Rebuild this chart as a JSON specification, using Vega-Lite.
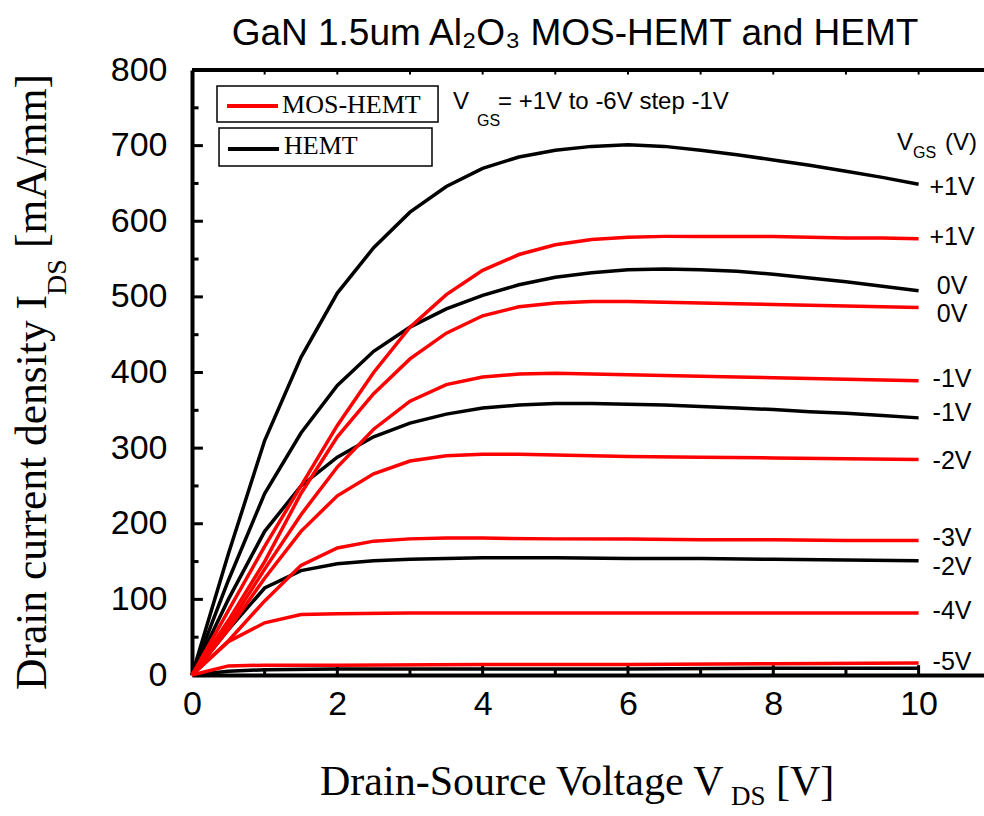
{
  "$schema": "https://vega.github.io/schema/vega-lite/v6.json",
  "width": 792,
  "height": 605,
  "autosize": {"type": "none"},
  "padding": {"left": 192, "top": 70, "right": 0, "bottom": 141},
  "background": "white",
  "title": {"text": "GaN 1.5um Al₂O₃ MOS-HEMT and HEMT", "font": "Liberation Sans", "fontSize": 37, "fontWeight": "normal", "color": "black", "offset": 0, "dx": -13, "anchor": "middle"},
  "config": {"view": {"stroke": null}},
  "datasets": {
    "curves": [
      {"dev": "HEMT", "g": "+1V", "v": 0, "i": 0}, {"dev": "HEMT", "g": "+1V", "v": 0.5, "i": 160}, {"dev": "HEMT", "g": "+1V", "v": 1, "i": 310}, {"dev": "HEMT", "g": "+1V", "v": 1.5, "i": 420}, {"dev": "HEMT", "g": "+1V", "v": 2, "i": 505}, {"dev": "HEMT", "g": "+1V", "v": 2.5, "i": 565}, {"dev": "HEMT", "g": "+1V", "v": 3, "i": 612}, {"dev": "HEMT", "g": "+1V", "v": 3.5, "i": 646}, {"dev": "HEMT", "g": "+1V", "v": 4, "i": 670}, {"dev": "HEMT", "g": "+1V", "v": 4.5, "i": 685}, {"dev": "HEMT", "g": "+1V", "v": 5, "i": 694}, {"dev": "HEMT", "g": "+1V", "v": 5.5, "i": 699}, {"dev": "HEMT", "g": "+1V", "v": 6, "i": 701}, {"dev": "HEMT", "g": "+1V", "v": 6.5, "i": 699}, {"dev": "HEMT", "g": "+1V", "v": 7, "i": 694}, {"dev": "HEMT", "g": "+1V", "v": 7.5, "i": 688}, {"dev": "HEMT", "g": "+1V", "v": 8, "i": 681}, {"dev": "HEMT", "g": "+1V", "v": 8.5, "i": 674}, {"dev": "HEMT", "g": "+1V", "v": 9, "i": 666}, {"dev": "HEMT", "g": "+1V", "v": 9.5, "i": 658}, {"dev": "HEMT", "g": "+1V", "v": 10, "i": 649},
      {"dev": "HEMT", "g": "0V", "v": 0, "i": 0}, {"dev": "HEMT", "g": "0V", "v": 0.5, "i": 125}, {"dev": "HEMT", "g": "0V", "v": 1, "i": 240}, {"dev": "HEMT", "g": "0V", "v": 1.5, "i": 320}, {"dev": "HEMT", "g": "0V", "v": 2, "i": 383}, {"dev": "HEMT", "g": "0V", "v": 2.5, "i": 428}, {"dev": "HEMT", "g": "0V", "v": 3, "i": 460}, {"dev": "HEMT", "g": "0V", "v": 3.5, "i": 484}, {"dev": "HEMT", "g": "0V", "v": 4, "i": 502}, {"dev": "HEMT", "g": "0V", "v": 4.5, "i": 516}, {"dev": "HEMT", "g": "0V", "v": 5, "i": 526}, {"dev": "HEMT", "g": "0V", "v": 5.5, "i": 532}, {"dev": "HEMT", "g": "0V", "v": 6, "i": 536}, {"dev": "HEMT", "g": "0V", "v": 6.5, "i": 537}, {"dev": "HEMT", "g": "0V", "v": 7, "i": 536}, {"dev": "HEMT", "g": "0V", "v": 7.5, "i": 534}, {"dev": "HEMT", "g": "0V", "v": 8, "i": 530}, {"dev": "HEMT", "g": "0V", "v": 8.5, "i": 525}, {"dev": "HEMT", "g": "0V", "v": 9, "i": 520}, {"dev": "HEMT", "g": "0V", "v": 9.5, "i": 514}, {"dev": "HEMT", "g": "0V", "v": 10, "i": 508},
      {"dev": "HEMT", "g": "-1V", "v": 0, "i": 0}, {"dev": "HEMT", "g": "-1V", "v": 0.5, "i": 100}, {"dev": "HEMT", "g": "-1V", "v": 1, "i": 190}, {"dev": "HEMT", "g": "-1V", "v": 1.5, "i": 250}, {"dev": "HEMT", "g": "-1V", "v": 2, "i": 288}, {"dev": "HEMT", "g": "-1V", "v": 2.5, "i": 315}, {"dev": "HEMT", "g": "-1V", "v": 3, "i": 333}, {"dev": "HEMT", "g": "-1V", "v": 3.5, "i": 345}, {"dev": "HEMT", "g": "-1V", "v": 4, "i": 353}, {"dev": "HEMT", "g": "-1V", "v": 4.5, "i": 357}, {"dev": "HEMT", "g": "-1V", "v": 5, "i": 359}, {"dev": "HEMT", "g": "-1V", "v": 5.5, "i": 359}, {"dev": "HEMT", "g": "-1V", "v": 6, "i": 358}, {"dev": "HEMT", "g": "-1V", "v": 6.5, "i": 357}, {"dev": "HEMT", "g": "-1V", "v": 7, "i": 355}, {"dev": "HEMT", "g": "-1V", "v": 7.5, "i": 353}, {"dev": "HEMT", "g": "-1V", "v": 8, "i": 351}, {"dev": "HEMT", "g": "-1V", "v": 8.5, "i": 348}, {"dev": "HEMT", "g": "-1V", "v": 9, "i": 346}, {"dev": "HEMT", "g": "-1V", "v": 9.5, "i": 343}, {"dev": "HEMT", "g": "-1V", "v": 10, "i": 340},
      {"dev": "HEMT", "g": "-2V", "v": 0, "i": 0}, {"dev": "HEMT", "g": "-2V", "v": 0.5, "i": 60}, {"dev": "HEMT", "g": "-2V", "v": 1, "i": 115}, {"dev": "HEMT", "g": "-2V", "v": 1.5, "i": 138}, {"dev": "HEMT", "g": "-2V", "v": 2, "i": 147}, {"dev": "HEMT", "g": "-2V", "v": 2.5, "i": 151}, {"dev": "HEMT", "g": "-2V", "v": 3, "i": 153}, {"dev": "HEMT", "g": "-2V", "v": 3.5, "i": 154}, {"dev": "HEMT", "g": "-2V", "v": 4, "i": 155}, {"dev": "HEMT", "g": "-2V", "v": 5, "i": 155}, {"dev": "HEMT", "g": "-2V", "v": 6, "i": 154}, {"dev": "HEMT", "g": "-2V", "v": 7, "i": 154}, {"dev": "HEMT", "g": "-2V", "v": 8, "i": 153}, {"dev": "HEMT", "g": "-2V", "v": 9, "i": 152}, {"dev": "HEMT", "g": "-2V", "v": 10, "i": 151},
      {"dev": "HEMT", "g": "-3V", "v": 0, "i": 0}, {"dev": "HEMT", "g": "-3V", "v": 0.5, "i": 5}, {"dev": "HEMT", "g": "-3V", "v": 1, "i": 7}, {"dev": "HEMT", "g": "-3V", "v": 2, "i": 8}, {"dev": "HEMT", "g": "-3V", "v": 4, "i": 8}, {"dev": "HEMT", "g": "-3V", "v": 6, "i": 8}, {"dev": "HEMT", "g": "-3V", "v": 8, "i": 9}, {"dev": "HEMT", "g": "-3V", "v": 10, "i": 9},
      {"dev": "MOS-HEMT", "g": "+1V", "v": 0, "i": 0}, {"dev": "MOS-HEMT", "g": "+1V", "v": 0.5, "i": 85}, {"dev": "MOS-HEMT", "g": "+1V", "v": 1, "i": 170}, {"dev": "MOS-HEMT", "g": "+1V", "v": 1.5, "i": 250}, {"dev": "MOS-HEMT", "g": "+1V", "v": 2, "i": 330}, {"dev": "MOS-HEMT", "g": "+1V", "v": 2.5, "i": 400}, {"dev": "MOS-HEMT", "g": "+1V", "v": 3, "i": 460}, {"dev": "MOS-HEMT", "g": "+1V", "v": 3.5, "i": 503}, {"dev": "MOS-HEMT", "g": "+1V", "v": 4, "i": 535}, {"dev": "MOS-HEMT", "g": "+1V", "v": 4.5, "i": 556}, {"dev": "MOS-HEMT", "g": "+1V", "v": 5, "i": 569}, {"dev": "MOS-HEMT", "g": "+1V", "v": 5.5, "i": 576}, {"dev": "MOS-HEMT", "g": "+1V", "v": 6, "i": 579}, {"dev": "MOS-HEMT", "g": "+1V", "v": 6.5, "i": 580}, {"dev": "MOS-HEMT", "g": "+1V", "v": 7, "i": 580}, {"dev": "MOS-HEMT", "g": "+1V", "v": 7.5, "i": 580}, {"dev": "MOS-HEMT", "g": "+1V", "v": 8, "i": 580}, {"dev": "MOS-HEMT", "g": "+1V", "v": 8.5, "i": 579}, {"dev": "MOS-HEMT", "g": "+1V", "v": 9, "i": 578}, {"dev": "MOS-HEMT", "g": "+1V", "v": 9.5, "i": 578}, {"dev": "MOS-HEMT", "g": "+1V", "v": 10, "i": 577},
      {"dev": "MOS-HEMT", "g": "0V", "v": 0, "i": 0}, {"dev": "MOS-HEMT", "g": "0V", "v": 0.5, "i": 72}, {"dev": "MOS-HEMT", "g": "0V", "v": 1, "i": 150}, {"dev": "MOS-HEMT", "g": "0V", "v": 1.5, "i": 240}, {"dev": "MOS-HEMT", "g": "0V", "v": 2, "i": 315}, {"dev": "MOS-HEMT", "g": "0V", "v": 2.5, "i": 372}, {"dev": "MOS-HEMT", "g": "0V", "v": 3, "i": 418}, {"dev": "MOS-HEMT", "g": "0V", "v": 3.5, "i": 452}, {"dev": "MOS-HEMT", "g": "0V", "v": 4, "i": 475}, {"dev": "MOS-HEMT", "g": "0V", "v": 4.5, "i": 487}, {"dev": "MOS-HEMT", "g": "0V", "v": 5, "i": 492}, {"dev": "MOS-HEMT", "g": "0V", "v": 5.5, "i": 494}, {"dev": "MOS-HEMT", "g": "0V", "v": 6, "i": 494}, {"dev": "MOS-HEMT", "g": "0V", "v": 6.5, "i": 493}, {"dev": "MOS-HEMT", "g": "0V", "v": 7, "i": 492}, {"dev": "MOS-HEMT", "g": "0V", "v": 7.5, "i": 491}, {"dev": "MOS-HEMT", "g": "0V", "v": 8, "i": 490}, {"dev": "MOS-HEMT", "g": "0V", "v": 8.5, "i": 489}, {"dev": "MOS-HEMT", "g": "0V", "v": 9, "i": 488}, {"dev": "MOS-HEMT", "g": "0V", "v": 9.5, "i": 487}, {"dev": "MOS-HEMT", "g": "0V", "v": 10, "i": 486},
      {"dev": "MOS-HEMT", "g": "-1V", "v": 0, "i": 0}, {"dev": "MOS-HEMT", "g": "-1V", "v": 0.5, "i": 65}, {"dev": "MOS-HEMT", "g": "-1V", "v": 1, "i": 140}, {"dev": "MOS-HEMT", "g": "-1V", "v": 1.5, "i": 212}, {"dev": "MOS-HEMT", "g": "-1V", "v": 2, "i": 275}, {"dev": "MOS-HEMT", "g": "-1V", "v": 2.5, "i": 325}, {"dev": "MOS-HEMT", "g": "-1V", "v": 3, "i": 362}, {"dev": "MOS-HEMT", "g": "-1V", "v": 3.5, "i": 384}, {"dev": "MOS-HEMT", "g": "-1V", "v": 4, "i": 394}, {"dev": "MOS-HEMT", "g": "-1V", "v": 4.5, "i": 398}, {"dev": "MOS-HEMT", "g": "-1V", "v": 5, "i": 399}, {"dev": "MOS-HEMT", "g": "-1V", "v": 5.5, "i": 398}, {"dev": "MOS-HEMT", "g": "-1V", "v": 6, "i": 397}, {"dev": "MOS-HEMT", "g": "-1V", "v": 6.5, "i": 396}, {"dev": "MOS-HEMT", "g": "-1V", "v": 7, "i": 395}, {"dev": "MOS-HEMT", "g": "-1V", "v": 7.5, "i": 394}, {"dev": "MOS-HEMT", "g": "-1V", "v": 8, "i": 393}, {"dev": "MOS-HEMT", "g": "-1V", "v": 8.5, "i": 392}, {"dev": "MOS-HEMT", "g": "-1V", "v": 9, "i": 391}, {"dev": "MOS-HEMT", "g": "-1V", "v": 9.5, "i": 390}, {"dev": "MOS-HEMT", "g": "-1V", "v": 10, "i": 389},
      {"dev": "MOS-HEMT", "g": "-2V", "v": 0, "i": 0}, {"dev": "MOS-HEMT", "g": "-2V", "v": 0.5, "i": 60}, {"dev": "MOS-HEMT", "g": "-2V", "v": 1, "i": 128}, {"dev": "MOS-HEMT", "g": "-2V", "v": 1.5, "i": 190}, {"dev": "MOS-HEMT", "g": "-2V", "v": 2, "i": 237}, {"dev": "MOS-HEMT", "g": "-2V", "v": 2.5, "i": 266}, {"dev": "MOS-HEMT", "g": "-2V", "v": 3, "i": 283}, {"dev": "MOS-HEMT", "g": "-2V", "v": 3.5, "i": 290}, {"dev": "MOS-HEMT", "g": "-2V", "v": 4, "i": 292}, {"dev": "MOS-HEMT", "g": "-2V", "v": 4.5, "i": 292}, {"dev": "MOS-HEMT", "g": "-2V", "v": 5, "i": 291}, {"dev": "MOS-HEMT", "g": "-2V", "v": 6, "i": 289}, {"dev": "MOS-HEMT", "g": "-2V", "v": 7, "i": 288}, {"dev": "MOS-HEMT", "g": "-2V", "v": 8, "i": 287}, {"dev": "MOS-HEMT", "g": "-2V", "v": 9, "i": 286}, {"dev": "MOS-HEMT", "g": "-2V", "v": 10, "i": 285},
      {"dev": "MOS-HEMT", "g": "-3V", "v": 0, "i": 0}, {"dev": "MOS-HEMT", "g": "-3V", "v": 0.5, "i": 45}, {"dev": "MOS-HEMT", "g": "-3V", "v": 1, "i": 98}, {"dev": "MOS-HEMT", "g": "-3V", "v": 1.5, "i": 145}, {"dev": "MOS-HEMT", "g": "-3V", "v": 2, "i": 168}, {"dev": "MOS-HEMT", "g": "-3V", "v": 2.5, "i": 177}, {"dev": "MOS-HEMT", "g": "-3V", "v": 3, "i": 180}, {"dev": "MOS-HEMT", "g": "-3V", "v": 3.5, "i": 181}, {"dev": "MOS-HEMT", "g": "-3V", "v": 4, "i": 181}, {"dev": "MOS-HEMT", "g": "-3V", "v": 5, "i": 180}, {"dev": "MOS-HEMT", "g": "-3V", "v": 6, "i": 180}, {"dev": "MOS-HEMT", "g": "-3V", "v": 7, "i": 179}, {"dev": "MOS-HEMT", "g": "-3V", "v": 8, "i": 179}, {"dev": "MOS-HEMT", "g": "-3V", "v": 9, "i": 178}, {"dev": "MOS-HEMT", "g": "-3V", "v": 10, "i": 178},
      {"dev": "MOS-HEMT", "g": "-4V", "v": 0, "i": 0}, {"dev": "MOS-HEMT", "g": "-4V", "v": 0.5, "i": 44}, {"dev": "MOS-HEMT", "g": "-4V", "v": 1, "i": 69}, {"dev": "MOS-HEMT", "g": "-4V", "v": 1.5, "i": 80}, {"dev": "MOS-HEMT", "g": "-4V", "v": 2, "i": 81}, {"dev": "MOS-HEMT", "g": "-4V", "v": 3, "i": 82}, {"dev": "MOS-HEMT", "g": "-4V", "v": 4, "i": 82}, {"dev": "MOS-HEMT", "g": "-4V", "v": 6, "i": 82}, {"dev": "MOS-HEMT", "g": "-4V", "v": 8, "i": 82}, {"dev": "MOS-HEMT", "g": "-4V", "v": 10, "i": 82},
      {"dev": "MOS-HEMT", "g": "-5V", "v": 0, "i": 0}, {"dev": "MOS-HEMT", "g": "-5V", "v": 0.5, "i": 12}, {"dev": "MOS-HEMT", "g": "-5V", "v": 1, "i": 13}, {"dev": "MOS-HEMT", "g": "-5V", "v": 2, "i": 13}, {"dev": "MOS-HEMT", "g": "-5V", "v": 4, "i": 14}, {"dev": "MOS-HEMT", "g": "-5V", "v": 6, "i": 14}, {"dev": "MOS-HEMT", "g": "-5V", "v": 8, "i": 15}, {"dev": "MOS-HEMT", "g": "-5V", "v": 10, "i": 16}
    ],
    "labels": [
      {"label": "+1V", "i": 645}, {"label": "+1V", "i": 579}, {"label": "0V", "i": 514}, {"label": "0V", "i": 477},
      {"label": "-1V", "i": 391}, {"label": "-1V", "i": 346}, {"label": "-2V", "i": 283}, {"label": "-3V", "i": 181},
      {"label": "-2V", "i": 143}, {"label": "-4V", "i": 85}, {"label": "-5V", "i": 17}
    ],
    "xticks": [{"v": 1}, {"v": 2}, {"v": 3}, {"v": 4}, {"v": 5}, {"v": 6}, {"v": 7}, {"v": 8}, {"v": 9}, {"v": 10}],
    "yticks": [{"i": 50}, {"i": 100}, {"i": 150}, {"i": 200}, {"i": 250}, {"i": 300}, {"i": 350}, {"i": 400}, {"i": 450}, {"i": 500}, {"i": 550}, {"i": 600}, {"i": 650}, {"i": 700}, {"i": 750}]
  },
  "layer": [
    {
      "data": {"name": "curves"},
      "transform": [{"filter": "datum.dev === 'HEMT'"}],
      "mark": {"type": "line", "strokeWidth": 3.5, "color": "black"},
      "encoding": {
        "x": {"field": "v", "type": "quantitative", "scale": {"domain": [0, 10.9], "nice": false, "zero": false},
          "axis": {"orient": "bottom", "title": null, "format": "d", "values": [0,2,4,6,8,10], "grid": false, "domainColor": "black", "domainWidth": 4, "ticks": false, "labelFont": "Liberation Sans", "labelFontSize": 34, "labelColor": "black", "labelPadding": 12, "labelFlush": false, "labelOverlap": false}},
        "y": {"field": "i", "type": "quantitative", "scale": {"domain": [0, 800], "nice": false},
          "axis": {"orient": "left", "title": null, "format": "d", "values": [0,100,200,300,400,500,600,700,800], "grid": false, "domainColor": "black", "domainWidth": 4, "ticks": false, "labelFont": "Liberation Sans", "labelFontSize": 34, "labelColor": "black", "labelPadding": 25, "labelFlush": false, "labelOverlap": false}},
        "detail": {"field": "g"}
      }
    },
    {
      "data": {"name": "xticks"},
      "transform": [{"filter": "datum.v % 2 === 0"}],
      "mark": {"type": "rule", "strokeWidth": 3, "color": "black"},
      "encoding": {"x": {"field": "v", "type": "quantitative"}, "y": {"datum": 0, "type": "quantitative"}, "y2": {"datum": 13}}
    },
    {
      "data": {"name": "xticks"},
      "transform": [{"filter": "datum.v % 2 === 1"}],
      "mark": {"type": "rule", "strokeWidth": 3, "color": "black"},
      "encoding": {"x": {"field": "v", "type": "quantitative"}, "y": {"datum": 0, "type": "quantitative"}, "y2": {"datum": 9}}
    },
    {
      "data": {"name": "xticks"},
      "mark": {"type": "rule", "strokeWidth": 2, "color": "black"},
      "encoding": {"x": {"field": "v", "type": "quantitative"}, "y": {"datum": 800, "type": "quantitative"}, "y2": {"datum": 794}}
    },
    {
      "data": {"name": "yticks"},
      "transform": [{"filter": "datum.i % 100 === 0"}],
      "mark": {"type": "rule", "strokeWidth": 3, "color": "black"},
      "encoding": {"y": {"field": "i", "type": "quantitative"}, "x": {"datum": 0, "type": "quantitative"}, "x2": {"datum": 0.15}}
    },
    {
      "data": {"name": "yticks"},
      "transform": [{"filter": "datum.i % 100 !== 0"}],
      "mark": {"type": "rule", "strokeWidth": 3, "color": "black"},
      "encoding": {"y": {"field": "i", "type": "quantitative"}, "x": {"datum": 0, "type": "quantitative"}, "x2": {"datum": 0.09}}
    },
    {
      "data": {"name": "curves"},
      "transform": [{"filter": "datum.dev === 'MOS-HEMT'"}],
      "mark": {"type": "line", "strokeWidth": 3.5, "color": "#ff0000"},
      "encoding": {
        "x": {"field": "v", "type": "quantitative"},
        "y": {"field": "i", "type": "quantitative"},
        "detail": {"field": "g"}
      }
    },
    {
      "data": {"values": [{}]},
      "mark": {"type": "rule", "strokeWidth": 4, "color": "black"},
      "encoding": {
        "x": {"datum": 0, "type": "quantitative"},
        "x2": {"datum": 10.9},
        "y": {"datum": 800, "type": "quantitative"}
      }
    },
    {
      "data": {"name": "labels"},
      "mark": {"type": "text", "font": "Liberation Sans", "fontSize": 25, "align": "center", "baseline": "middle", "color": "black"},
      "encoding": {
        "x": {"datum": 10.46, "type": "quantitative"},
        "y": {"field": "i", "type": "quantitative"},
        "text": {"field": "label"}
      }
    },
    {
      "data": {"values": [{}]},
      "mark": {"type": "rect", "fill": "white", "stroke": "black", "strokeWidth": 1.5},
      "encoding": {"x": {"datum": 0.344, "type": "quantitative"}, "x2": {"datum": 3.386}, "y": {"datum": 778.8, "type": "quantitative"}, "y2": {"datum": 731.2}}
    },
    {
      "data": {"values": [{}]},
      "mark": {"type": "rect", "fill": "white", "stroke": "black", "strokeWidth": 1.5},
      "encoding": {"x": {"datum": 0.372, "type": "quantitative"}, "x2": {"datum": 3.303}, "y": {"datum": 723.3, "type": "quantitative"}, "y2": {"datum": 673.1}}
    },
    {
      "data": {"values": [{}]},
      "mark": {"type": "rule", "strokeWidth": 4, "color": "#ff0000"},
      "encoding": {"x": {"datum": 0.482, "type": "quantitative"}, "x2": {"datum": 1.184}, "y": {"datum": 752.4, "type": "quantitative"}}
    },
    {
      "data": {"values": [{}]},
      "mark": {"type": "rule", "strokeWidth": 4, "color": "black"},
      "encoding": {"x": {"datum": 0.495, "type": "quantitative"}, "x2": {"datum": 1.198}, "y": {"datum": 695.5, "type": "quantitative"}}
    },
    {
      "data": {"values": [{}]},
      "mark": {"type": "text", "font": "Liberation Serif", "fontSize": 26, "align": "left", "baseline": "middle", "color": "black"},
      "encoding": {"x": {"datum": 1.239, "type": "quantitative"}, "y": {"datum": 753.7, "type": "quantitative"}, "text": {"value": "MOS-HEMT"}}
    },
    {
      "data": {"values": [{}]},
      "mark": {"type": "text", "font": "Liberation Serif", "fontSize": 26, "align": "left", "baseline": "middle", "color": "black"},
      "encoding": {"x": {"datum": 1.266, "type": "quantitative"}, "y": {"datum": 699.5, "type": "quantitative"}, "text": {"value": "HEMT"}}
    },
    {
      "data": {"values": [{}]},
      "mark": {"type": "text", "font": "Liberation Sans", "fontSize": 24, "align": "left", "baseline": "middle", "color": "black"},
      "encoding": {"x": {"datum": 3.592, "type": "quantitative"}, "y": {"datum": 757.7, "type": "quantitative"}, "text": {"value": "V"}}
    },
    {
      "data": {"values": [{}]},
      "mark": {"type": "text", "font": "Liberation Sans", "fontSize": 16, "align": "left", "baseline": "middle", "color": "black"},
      "encoding": {"x": {"datum": 3.922, "type": "quantitative"}, "y": {"datum": 732.6, "type": "quantitative"}, "text": {"value": "GS"}}
    },
    {
      "data": {"values": [{}]},
      "mark": {"type": "text", "font": "Liberation Sans", "fontSize": 24, "align": "left", "baseline": "middle", "color": "black"},
      "encoding": {"x": {"datum": 4.211, "type": "quantitative"}, "y": {"datum": 757.7, "type": "quantitative"}, "text": {"value": "= +1V to -6V step -1V"}}
    },
    {
      "data": {"values": [{}]},
      "mark": {"type": "text", "font": "Liberation Sans", "fontSize": 24, "align": "left", "baseline": "middle", "color": "black"},
      "encoding": {"x": {"datum": 9.703, "type": "quantitative"}, "y": {"datum": 703.5, "type": "quantitative"}, "text": {"value": "V"}}
    },
    {
      "data": {"values": [{}]},
      "mark": {"type": "text", "font": "Liberation Sans", "fontSize": 16, "align": "left", "baseline": "middle", "color": "black"},
      "encoding": {"x": {"datum": 9.923, "type": "quantitative"}, "y": {"datum": 690.2, "type": "quantitative"}, "text": {"value": "GS"}}
    },
    {
      "data": {"values": [{}]},
      "mark": {"type": "text", "font": "Liberation Sans", "fontSize": 24, "align": "left", "baseline": "middle", "color": "black"},
      "encoding": {"x": {"datum": 10.363, "type": "quantitative"}, "y": {"datum": 703.5, "type": "quantitative"}, "text": {"value": "(V)"}}
    },
    {
      "data": {"values": [{}]},
      "mark": {"type": "text", "font": "Liberation Serif", "fontSize": 42, "align": "left", "baseline": "middle", "color": "black"},
      "encoding": {"x": {"datum": 1.762, "type": "quantitative"}, "y": {"datum": -141.5, "type": "quantitative"}, "text": {"value": "Drain-Source Voltage V"}}
    },
    {
      "data": {"values": [{}]},
      "mark": {"type": "text", "font": "Liberation Serif", "fontSize": 27, "align": "left", "baseline": "middle", "color": "black"},
      "encoding": {"x": {"datum": 7.418, "type": "quantitative"}, "y": {"datum": -161.3, "type": "quantitative"}, "text": {"value": "DS"}}
    },
    {
      "data": {"values": [{}]},
      "mark": {"type": "text", "font": "Liberation Serif", "fontSize": 42, "align": "left", "baseline": "middle", "color": "black"},
      "encoding": {"x": {"datum": 8.037, "type": "quantitative"}, "y": {"datum": -141.5, "type": "quantitative"}, "text": {"value": "[V]"}}
    },
    {
      "data": {"values": [{}]},
      "mark": {"type": "text", "font": "Liberation Serif", "fontSize": 43.5, "align": "left", "baseline": "middle", "angle": 270, "color": "black"},
      "encoding": {"x": {"datum": -2.188, "type": "quantitative"}, "y": {"datum": -19.8, "type": "quantitative"}, "text": {"value": "Drain current density I"}}
    },
    {
      "data": {"values": [{}]},
      "mark": {"type": "text", "font": "Liberation Serif", "fontSize": 28, "align": "left", "baseline": "middle", "angle": 270, "color": "black"},
      "encoding": {"x": {"datum": -1.845, "type": "quantitative"}, "y": {"datum": 502.5, "type": "quantitative"}, "text": {"value": "DS"}}
    },
    {
      "data": {"values": [{}]},
      "mark": {"type": "text", "font": "Liberation Serif", "fontSize": 43.5, "align": "left", "baseline": "middle", "angle": 270, "color": "black"},
      "encoding": {"x": {"datum": -2.188, "type": "quantitative"}, "y": {"datum": 564.6, "type": "quantitative"}, "text": {"value": "[mA/mm]"}}
    }
  ]
}
